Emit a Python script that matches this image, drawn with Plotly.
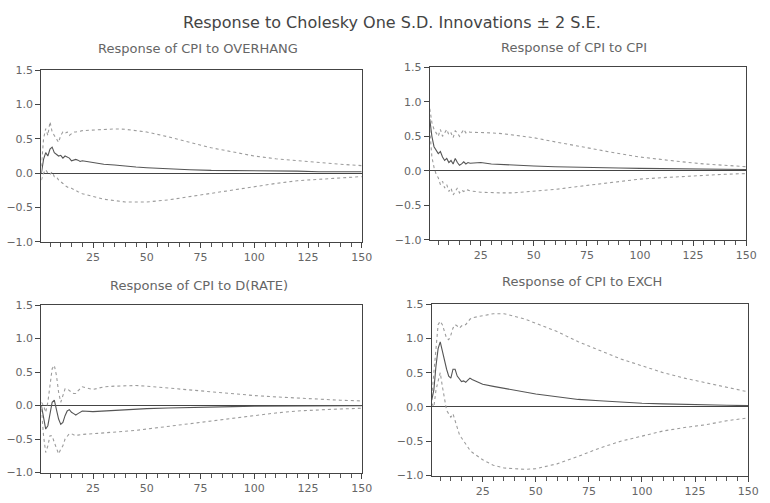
import plotly.graph_objects as go

# Horizons (dense where the responses oscillate)
periods = list(range(1, 21)) + [25, 30, 35, 40, 45, 50, 60, 70, 80, 90, 100, 110, 120, 130, 140, 150]

# Response of CPI to OVERHANG
overhang_resp = [0.0, 0.2, 0.3, 0.25, 0.35, 0.38, 0.3, 0.28, 0.25, 0.26, 0.22, 0.25, 0.24, 0.22, 0.18, 0.19, 0.2, 0.19, 0.17, 0.18,
                 0.15, 0.13, 0.12, 0.1, 0.09, 0.08, 0.06, 0.05, 0.04, 0.04, 0.03, 0.03, 0.03, 0.02, 0.02, 0.02]
overhang_up = [0.1, 0.5, 0.65, 0.55, 0.75, 0.6, 0.55, 0.5, 0.45, 0.55, 0.6, 0.58, 0.6, 0.55, 0.58, 0.6, 0.6, 0.6, 0.61, 0.62,
               0.63, 0.64, 0.645, 0.64, 0.62, 0.6, 0.53, 0.45, 0.37, 0.31, 0.25, 0.21, 0.18, 0.15, 0.13, 0.11]
overhang_lo = [-0.1, 0.0, 0.05, 0.0, -0.02, 0.02, -0.05, -0.05, -0.1, -0.12, -0.15, -0.18, -0.2, -0.22, -0.22, -0.24, -0.26, -0.27, -0.28, -0.3,
               -0.34, -0.38, -0.4, -0.42, -0.42, -0.42, -0.39, -0.34, -0.29, -0.24, -0.19, -0.15, -0.11, -0.09, -0.07, -0.05]

# Response of CPI to CPI
cpi_resp = [0.75, 0.5, 0.35, 0.3, 0.25, 0.28, 0.2, 0.15, 0.18, 0.12, 0.15, 0.1, 0.18, 0.12, 0.08, 0.1, 0.13, 0.1, 0.12, 0.11,
            0.12, 0.1, 0.09, 0.08, 0.075, 0.07, 0.06, 0.05, 0.045, 0.04, 0.035, 0.03, 0.03, 0.025, 0.02, 0.02]
cpi_up = [0.9, 0.7, 0.6, 0.55, 0.5, 0.6, 0.5, 0.55, 0.6, 0.52, 0.55, 0.48, 0.58, 0.55, 0.5, 0.55, 0.6, 0.55, 0.57, 0.56,
          0.56, 0.55, 0.54, 0.52, 0.5, 0.48, 0.42, 0.36, 0.3, 0.25, 0.2, 0.16, 0.13, 0.1, 0.08, 0.06]
cpi_lo = [0.6, 0.2, 0.05, -0.05, -0.1, -0.2, -0.15, -0.25, -0.2, -0.3, -0.25, -0.35, -0.3, -0.25, -0.32, -0.28, -0.3, -0.27, -0.28, -0.29,
          -0.31, -0.32, -0.32, -0.32, -0.31, -0.3, -0.27, -0.23, -0.19, -0.15, -0.12, -0.1, -0.08, -0.06, -0.05, -0.04]

# Response of CPI to D(RATE)
rate_resp = [0.0, -0.2, -0.35, -0.3, -0.1, 0.05, 0.08, -0.05, -0.2, -0.28, -0.25, -0.15, -0.08, -0.06, -0.1, -0.12, -0.14, -0.12, -0.1, -0.08,
             -0.09, -0.08, -0.07, -0.06, -0.05, -0.045, -0.035, -0.025, -0.02, -0.015, -0.01, -0.008, -0.005, -0.003, -0.002, 0.0]
rate_up = [0.05, 0.0, -0.1, 0.05, 0.3, 0.55, 0.6, 0.45, 0.2, 0.05, 0.15, 0.25, 0.25, 0.22, 0.2, 0.18, 0.18, 0.22, 0.25, 0.28,
           0.24, 0.28, 0.29, 0.3, 0.3, 0.29, 0.26, 0.23, 0.2, 0.17, 0.15, 0.13, 0.11, 0.1, 0.08, 0.07]
rate_lo = [-0.05, -0.45, -0.7, -0.6, -0.45, -0.45, -0.55, -0.65, -0.72, -0.65, -0.6, -0.5, -0.45, -0.42, -0.42, -0.43, -0.45, -0.44, -0.43, -0.43,
           -0.42, -0.41, -0.4, -0.39, -0.37, -0.35, -0.31, -0.27, -0.22, -0.18, -0.14, -0.11, -0.08, -0.06, -0.05, -0.04]

# Response of CPI to EXCH
exch_resp = [0.1, 0.25, 0.6, 0.85, 0.95, 0.8, 0.7, 0.55, 0.45, 0.42, 0.55, 0.55, 0.45, 0.4, 0.37, 0.38, 0.36, 0.39, 0.42, 0.4,
             0.33, 0.3, 0.27, 0.24, 0.21, 0.19, 0.15, 0.11, 0.09, 0.07, 0.055, 0.045, 0.035, 0.03, 0.025, 0.02]
exch_up = [0.15, 0.5, 0.95, 1.2, 1.25, 1.2, 1.1, 1.0, 0.98, 1.05, 1.15, 1.2, 1.18, 1.15, 1.18, 1.2, 1.2, 1.25, 1.28, 1.3,
           1.33, 1.36, 1.36, 1.32, 1.28, 1.22, 1.1, 0.95, 0.82, 0.7, 0.6, 0.5, 0.42, 0.35, 0.28, 0.22]
exch_lo = [0.05, 0.0, 0.25, 0.4, 0.5, 0.3, 0.1, -0.05, -0.1, -0.15, -0.1, -0.2, -0.3, -0.4, -0.45, -0.5, -0.55, -0.6, -0.63, -0.66,
           -0.77, -0.85, -0.89, -0.9, -0.91, -0.9, -0.83, -0.72, -0.6, -0.5, -0.42, -0.35, -0.3, -0.26, -0.2, -0.16]

panel_titles = ["Response of CPI to OVERHANG", "Response of CPI to CPI",
                "Response of CPI to D(RATE)", "Response of CPI to EXCH"]
main_title = "Response to Cholesky One S.D. Innovations \u00b1 2 S.E."
x_tick_vals = [25, 50, 75, 100, 125, 150]
y_tick_vals = [-1.0, -0.5, 0.0, 0.5, 1.0, 1.5]

panels = [(overhang_resp, overhang_up, overhang_lo),
          (cpi_resp, cpi_up, cpi_lo),
          (rate_resp, rate_up, rate_lo),
          (exch_resp, exch_up, exch_lo)]

W, H = 770, 503
# pixel boxes of each plot area: (left, right, top, bottom)
boxes = [(42, 367, 66, 242), (436, 757, 63, 240), (42, 367, 307, 479), (438, 759, 306, 482)]
title_pos = [(201, 44), (582, 43), (202, 287), (590, 283)]


def px(x):
    return x / W


def py(y):
    return 1 - y / H


FONT = "DejaVu Sans, Verdana, sans-serif"
fig = go.Figure()
layout = dict(
    width=W, height=H, margin=dict(l=0, r=0, t=0, b=0),
    paper_bgcolor="white", plot_bgcolor="white", showlegend=False,
    font=dict(family=FONT, color="#666666", size=11),
    annotations=[],
)

for i, ((resp, up, lo), (l, r, t, b)) in enumerate(zip(panels, boxes)):
    n = i + 1
    xa = "x" if n == 1 else f"x{n}"
    ya = "y" if n == 1 else f"y{n}"
    for s in (up, lo):
        fig.add_trace(go.Scatter(x=periods, y=s, mode="lines", xaxis=xa, yaxis=ya,
                                 line=dict(color="#9c9c9c", width=1.1, dash="dot")))
    fig.add_trace(go.Scatter(x=periods, y=resp, mode="lines", xaxis=xa, yaxis=ya,
                             line=dict(color="#555555", width=1.1)))
    xkey = "xaxis" if n == 1 else f"xaxis{n}"
    ykey = "yaxis" if n == 1 else f"yaxis{n}"
    layout[xkey] = dict(
        domain=[px(l), px(r)], anchor=ya, range=[1, 150],
        tickvals=x_tick_vals, ticks="outside", ticklen=5, tickcolor="#444",
        minor=dict(tickvals=list(range(5, 151, 5)), ticks="outside", ticklen=4, tickcolor="#555"),
        showgrid=False, zeroline=False, showline=True, linecolor="#444", linewidth=1.2, mirror=True,
        tickfont=dict(size=11, color="#666"),
    )
    layout[ykey] = dict(
        domain=[py(b), py(t)], anchor=xa, range=[-1.0, 1.5],
        tickvals=y_tick_vals, tickformat=".1f", ticks="outside", ticklen=5, tickcolor="#444",
        showgrid=False, zeroline=True, zerolinecolor="#444", zerolinewidth=1.2,
        showline=True, linecolor="#444", linewidth=1.2, mirror=True,
        tickfont=dict(size=11, color="#666"),
    )
    tx, ty = title_pos[i]
    layout["annotations"].append(dict(
        text=panel_titles[i], x=px(tx), y=py(ty), xref="paper", yref="paper",
        showarrow=False, xanchor="center", yanchor="middle",
        font=dict(size=13, color="#666666", family=FONT)))

layout["annotations"].append(dict(
    text=main_title, x=px(398), y=py(17), xref="paper", yref="paper",
    showarrow=False, xanchor="center", yanchor="middle",
    font=dict(size=16, color="#444444", family=FONT)))

fig.update_layout(**layout)
fig.write_html("out.html", config={"displayModeBar": False},
               post_script="document.body.style.margin='0';document.body.style.overflow='hidden';")
